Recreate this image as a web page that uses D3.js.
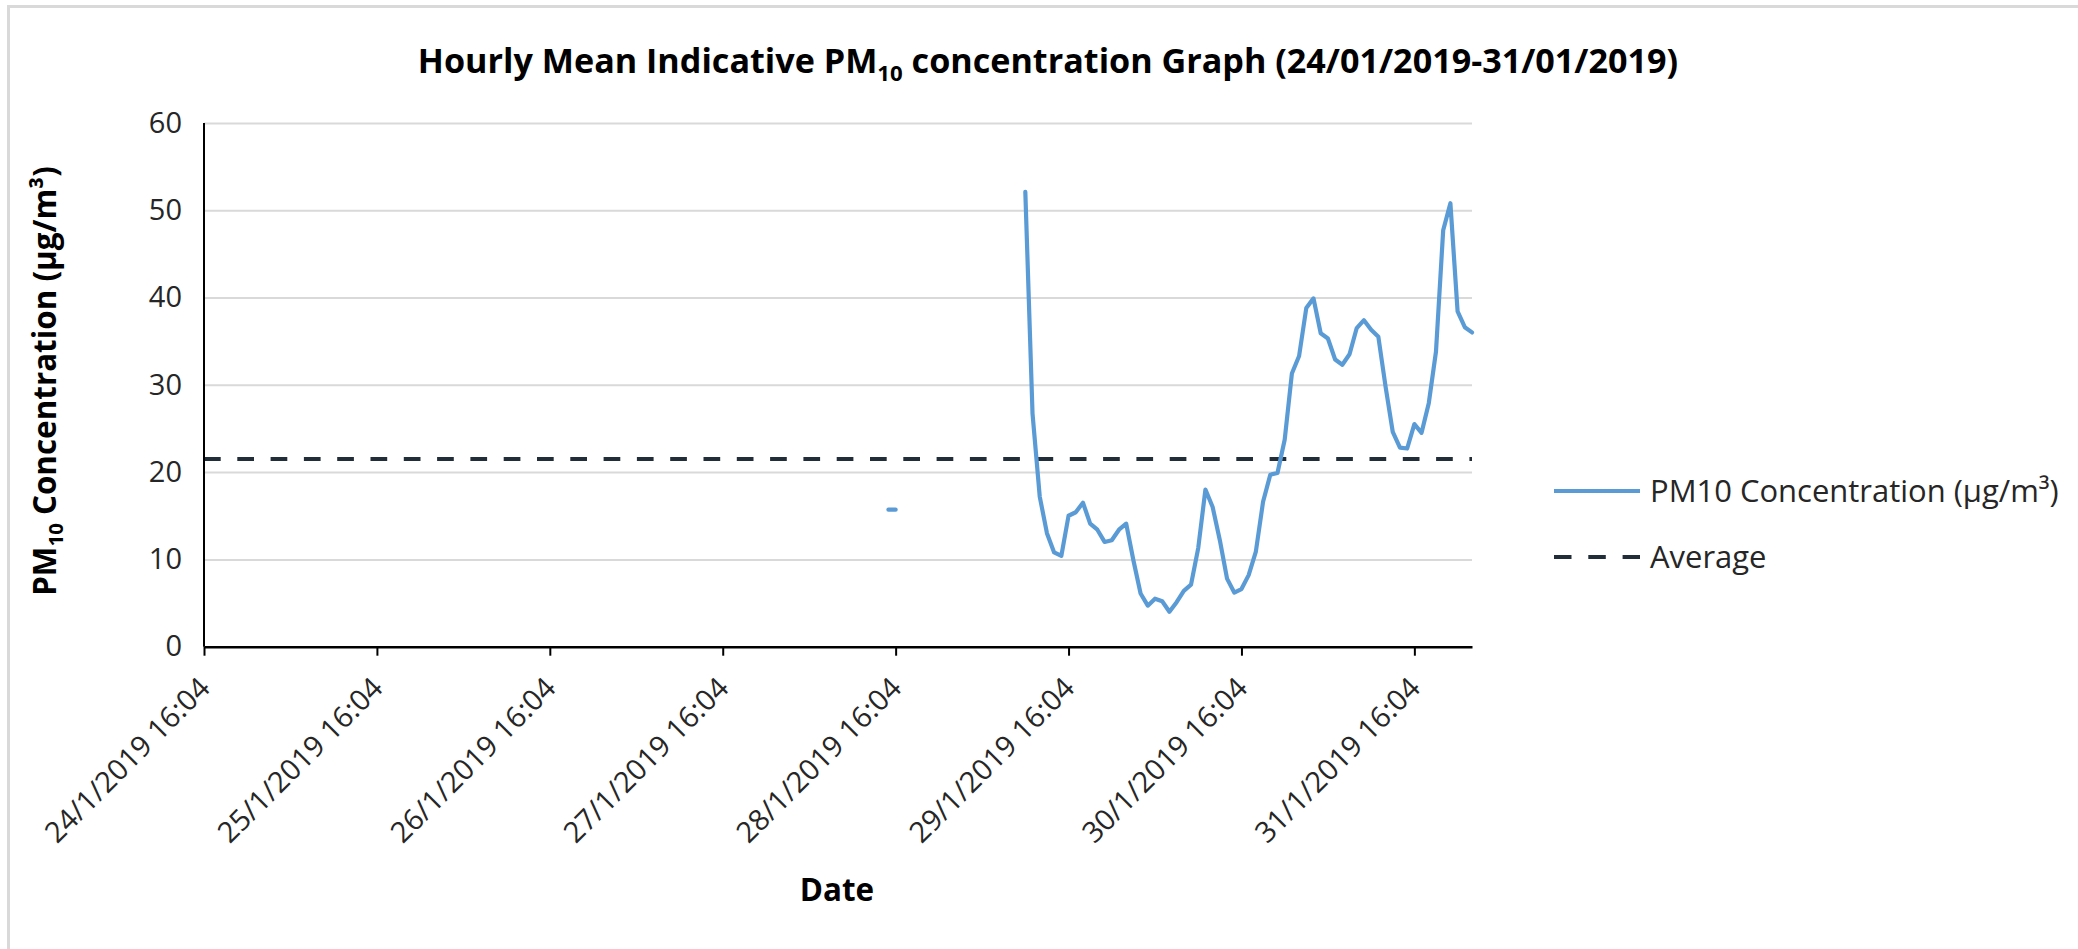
<!DOCTYPE html>
<html>
<head>
<meta charset="utf-8">
<script src="https://cdn.jsdelivr.net/npm/d3@7"></script>
<style>
  body { margin: 0; background: #fff; }
  svg { display: block; font-family: "Open Sans", sans-serif; }
</style>
</head>
<body>
<svg id="chart"></svg>
<script>
// values
var seriesStart = "28/1/2019 15:04";   // first hourly reading
var pmValues = [15.7, 15.7,
  null, null, null, null, null, null, null, null, null, null, null, null, null, null, null, null, null,
  52.1, 26.7, 17.2, 13.0, 10.8, 10.4, 15.0, 15.4, 16.5, 14.1,
  13.4, 12.0, 12.2, 13.4, 14.1, 9.9, 6.1, 4.7, 5.5, 5.2,
  4.0, 5.1, 6.4, 7.1, 11.3, 18.0, 16.0, 12.2, 7.8, 6.2,
  6.6, 8.2, 10.9, 16.6, 19.7, 19.9, 23.7, 31.3, 33.3, 38.8,
  39.9, 35.9, 35.3, 32.9, 32.3, 33.5, 36.5, 37.4, 36.3, 35.5,
  29.8, 24.6, 22.8, 22.7, 25.5, 24.5, 27.9, 33.8, 47.7, 50.8,
  38.4, 36.6, 36.0];
var averageValue = 21.5;
var axisRange = ["24/1/2019 16:04", "1/2/2019 00:04"];
var tickLabels = ["24/1/2019 16:04", "25/1/2019 16:04", "26/1/2019 16:04", "27/1/2019 16:04",
  "28/1/2019 16:04", "29/1/2019 16:04", "30/1/2019 16:04", "31/1/2019 16:04"];
var yTicks = [0, 10, 20, 30, 40, 50, 60];
var legendLabels = ["PM10 Concentration (µg/m³)", "Average"];

const width = 2078;
const height = 949;
var margin = {top: 122.9, left: 204, right: 606, bottom: 302.3};

var blue = "#5b9bd5", navy = "#222d3a";

var parse = d3.timeParse("%d/%m/%Y %H:%M");
var fmt = d3.timeFormat("%-d/%-m/%Y %H:%M");

var svg = d3.select("#chart")
    .attr("width", width)
    .attr("height", height);

// chart area border
svg.append("rect")
    .attr("x", 8.5).attr("y", 6.5)
    .attr("width", width + 50).attr("height", height + 50)
    .attr("fill", "#fff")
    .attr("stroke", "#d9d9d9")
    .attr("stroke-width", 3);

var x = d3.scaleTime()
    .domain(axisRange.map(parse))
    .range([margin.left, width - margin.right]);

var y = d3.scaleLinear()
    .domain([0, 60])
    .range([height - margin.bottom, margin.top]);

var start = parse(seriesStart);
var pmData = pmValues.map(function(v, i) {
  return {date: d3.timeHour.offset(start, i), value: v};
});
var avgData = x.domain().map(function(d) { return {date: d, value: averageValue}; });

// gridlines
svg.append("g")
    .attr("transform", "translate(" + margin.left + ",0)")
    .call(d3.axisLeft(y).tickValues(yTicks.slice(1)).tickSize(-(x.range()[1] - x.range()[0])).tickFormat(""))
    .call(function(g) { g.select(".domain").remove(); })
    .selectAll("line")
    .attr("stroke", "#d9d9d9")
    .attr("stroke-width", 2);

// y labels
svg.append("g")
    .attr("transform", "translate(" + margin.left + ",0)")
    .call(d3.axisLeft(y).tickValues(yTicks).tickSize(0).tickPadding(22))
    .call(function(g) { g.select(".domain").remove(); })
    .selectAll("text")
    .attr("font-family", "Open Sans")
    .attr("font-size", 29)
    .attr("fill", "#262626");

// average line
var line = d3.line()
    .defined(function(d) { return d.value != null; })
    .x(function(d) { return x(d.date); })
    .y(function(d) { return y(d.value); });

svg.append("path")
    .datum(avgData)
    .attr("d", line)
    .attr("fill", "none")
    .attr("stroke", navy)
    .attr("stroke-width", 4.2)
    .attr("stroke-dasharray", "16.7,16.6");

svg.append("path")
    .datum(pmData)
    .attr("d", line)
    .attr("fill", "none")
    .attr("stroke", blue)
    .attr("stroke-width", 4.2)
    .attr("stroke-linejoin", "round")
    .attr("stroke-linecap", "round");

// left axis line
svg.append("line")
    .attr("x1", margin.left).attr("x2", margin.left)
    .attr("y1", y(60)).attr("y2", y(0))
    .attr("stroke", "#000").attr("stroke-width", 2);

// x axis
var xAxis = svg.append("g")
    .attr("transform", "translate(0," + y(0) + ")")
    .call(d3.axisBottom(x).tickValues(tickLabels.map(parse)).tickSize(9).tickFormat(fmt).tickSizeOuter(0));
xAxis.select(".domain").attr("stroke", "#000").attr("stroke-width", 2.5);
xAxis.selectAll(".tick line").attr("stroke", "#000").attr("stroke-width", 2);
xAxis.selectAll("text")
    .attr("font-family", "Open Sans")
    .attr("font-size", 29)
    .attr("fill", "#262626")
    .attr("text-anchor", "end")
    .attr("y", 0)
    .attr("dy", "0.35em")
    .attr("transform", "translate(0,36) rotate(-45)");

// fit a text to a measured width
function fitWidth(t, w) {
  var cur = t.node().getComputedTextLength();
  var fs = parseFloat(t.attr("font-size"));
  t.attr("font-size", fs * w / cur);
}

// title
var title = svg.append("text")
    .attr("x", 1048).attr("y", 73)
    .attr("text-anchor", "middle")
    .attr("font-weight", "bold")
    .attr("font-size", 30)
    .attr("fill", "#000");
title.append("tspan").text("Hourly Mean Indicative PM");
title.append("tspan").attr("font-size", "65%").attr("dy", "0.35em").text("10");
title.append("tspan").attr("dy", "-0.2275em").text(" concentration  Graph (24/01/2019-31/01/2019)");
fitWidth(title, 1261);

// y title
var yTitle = svg.append("text")
    .attr("transform", "translate(56,381) rotate(-90)")
    .attr("text-anchor", "middle")
    .attr("font-weight", "bold")
    .attr("font-size", 30)
    .attr("fill", "#000");
yTitle.append("tspan").text("PM");
yTitle.append("tspan").attr("font-size", "65%").attr("dy", "0.35em").text("10");
yTitle.append("tspan").attr("dy", "-0.2275em").text("  Concentration (µg/m³)");
fitWidth(yTitle, 430);

// x title
svg.append("text")
    .attr("x", 837).attr("y", 890)
    .attr("text-anchor", "middle")
    .attr("dy", "0.35em")
    .attr("font-weight", "bold")
    .attr("font-size", yTitle.attr("font-size"))
    .attr("fill", "#000")
    .text("Date");

// legend
var legend = svg.append("g");
var rows = legend.selectAll("g")
    .data(legendLabels)
    .enter().append("g")
    .attr("transform", function(d, i) { return "translate(1554," + (491 + i * 66) + ")"; });
rows.append("line")
    .attr("x1", 0).attr("x2", 86)
    .attr("stroke", function(d, i) { return i ? navy : blue; })
    .attr("stroke-width", 4.2)
    .attr("stroke-dasharray", function(d, i) { return i ? "17.5,16.8" : null; });
var legendText = rows.append("text")
    .attr("x", 96)
    .attr("dy", "0.35em")
    .attr("font-size", 29)
    .attr("fill", "#262626")
    .text(function(d) { return d; });
fitWidth(d3.select(legendText.nodes()[0]), 409);
legendText.attr("font-size", d3.select(legendText.nodes()[0]).attr("font-size"));
</script>
</body>
</html>
